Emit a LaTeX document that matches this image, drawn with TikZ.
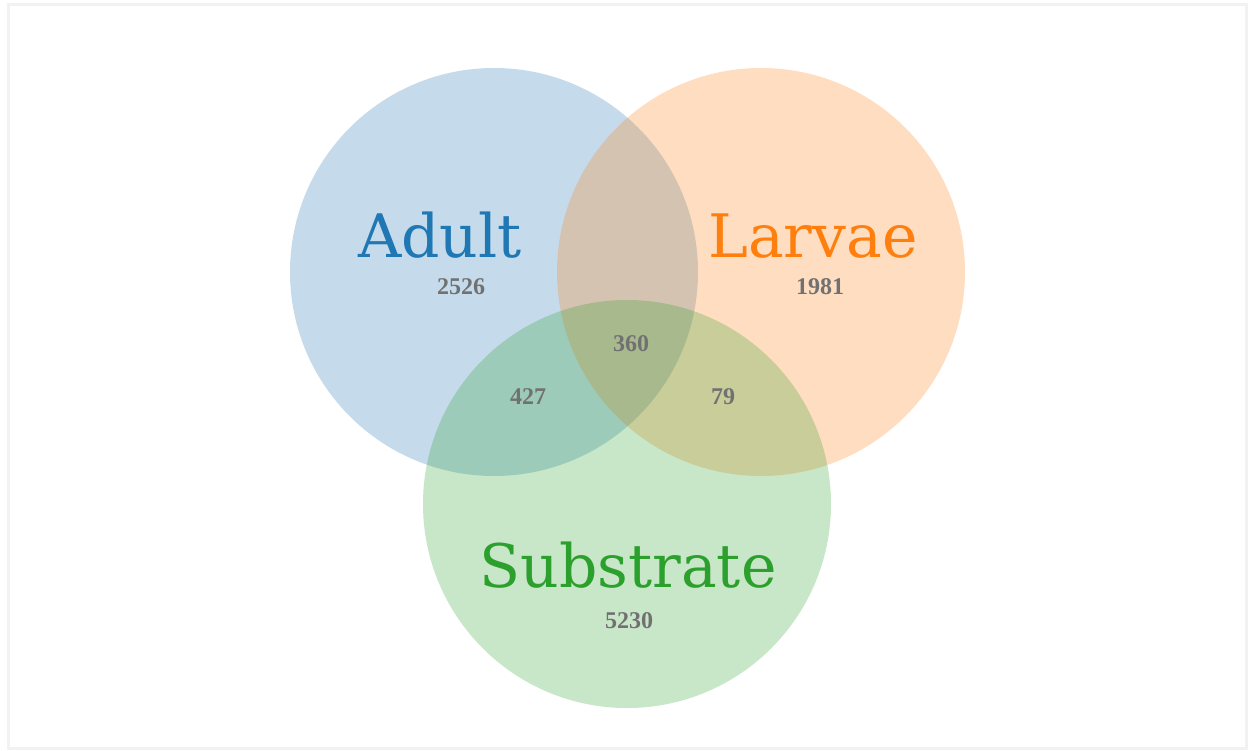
\documentclass[tikz,border=0pt]{standalone}
\usepackage{fontspec}
\newfontfamily\setlabelfont{DejaVu Serif}
\newfontfamily\countfont{Liberation Serif}
\definecolor{setblue}{HTML}{1F77B4}
\definecolor{setorange}{HTML}{FF7F0E}
\definecolor{setgreen}{HTML}{2CA02C}
\definecolor{countgray}{HTML}{717171}
\definecolor{frame}{HTML}{F2F2F2}
\begin{document}
\begin{tikzpicture}[x=1pt,y=-1pt,
  setdisc/.style={circle, inner sep=0pt, minimum size=408pt, fill opacity=0.26, draw=none},
  setname/.style={anchor=base, inner sep=0pt, font=\setlabelfont\fontsize{60}{60}\selectfont},
  count/.style={inner sep=0pt, text=countgray, font=\countfont\bfseries\fontsize{24}{24}\selectfont}]
  % canvas and thin frame
  \useasboundingbox (0,0) rectangle (1249,751);
  \fill[white] (0,0) rectangle (1249,751);
  \draw[frame, line width=3pt] (8,4.5) rectangle (1246,748.5);
  % the three sets
  \node[setdisc, fill=setblue]   (adult)     at (494,272) {};
  \node[setdisc, fill=setorange] (larvae)    at (761,272) {};
  \node[setdisc, fill=setgreen]  (substrate) at (627,504) {};
  % set names
  \node[setname, text=setblue]   (adultname)     at (440,258) {Adult};
  \node[setname, text=setorange] (larvaename)    at (813,258) {Larvae};
  \node[setname, text=setgreen]  (substratename) at (628,587) {Substrate};
  % region counts
  \node[count] (nA)   at (461,287) {2526};
  \node[count] (nL)   at (820,287) {1981};
  \node[count] (nALS) at (631,344) {360};
  \node[count] (nAS)  at (528,397) {427};
  \node[count] (nLS)  at (723,397) {79};
  \node[count] (nS)   at (629,621) {5230};
\end{tikzpicture}
\end{document}
